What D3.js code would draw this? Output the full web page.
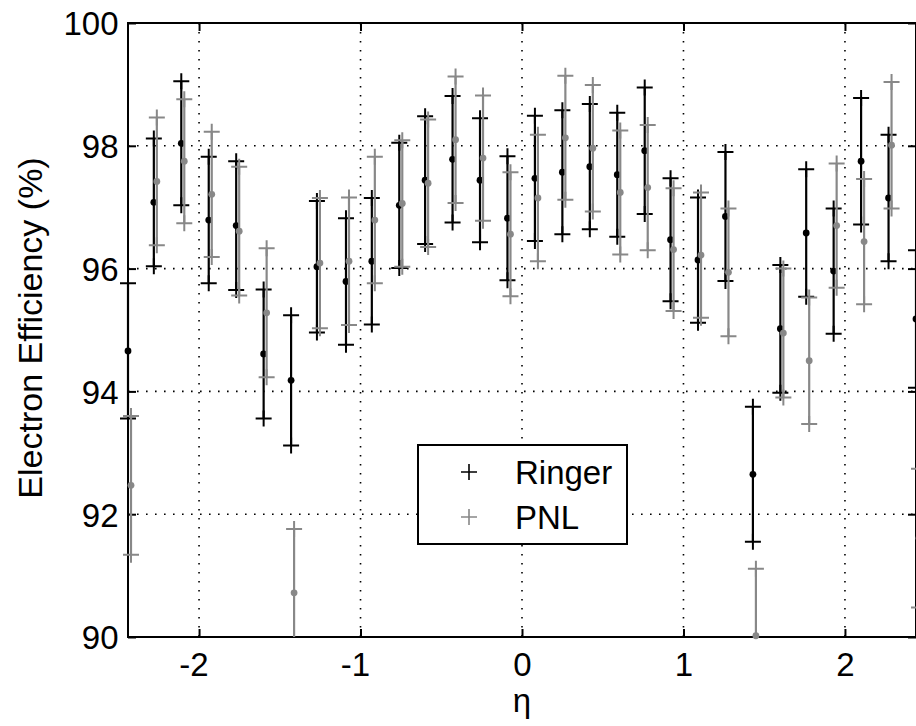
<!DOCTYPE html>
<html>
<head>
<meta charset="utf-8">
<script src="https://cdn.jsdelivr.net/npm/d3@7"></script>
<style>
  body { margin: 0; background: #fff; }
  text { font-family: 'Liberation Sans', Arial, sans-serif; }
</style>
</head>
<body>
<div id="chart"></div>
<script>
// eta bin centres
const etaBins = [-2.44, -2.28, -2.11, -1.94, -1.77, -1.6, -1.43, -1.27, -1.09, -0.93,
  -0.76, -0.6, -0.43, -0.26, -0.09, 0.08, 0.25, 0.42, 0.59, 0.76,
  0.92, 1.09, 1.26, 1.43, 1.6, 1.76, 1.93, 2.1, 2.27, 2.44];

const ringerEff = [94.66, 97.08, 98.04, 96.79, 96.7, 94.61, 94.18, 96.03, 95.79, 96.12,
  97.03, 97.44, 97.78, 97.44, 96.82, 97.47, 97.57, 97.66, 97.53, 97.92,
  96.47, 96.14, 96.85, 92.65, 95.02, 96.58, 95.96, 97.75, 97.15, 95.18];
const ringerErr = [1.1, 1.04, 1.01, 1.03, 1.05, 1.05, 1.06, 1.07, 1.03, 1.03,
  1.02, 1.04, 1.03, 1.01, 1.01, 1.02, 1.01, 1.02, 1.01, 1.03,
  1.0, 1.02, 1.05, 1.1, 1.04, 1.04, 1.02, 1.03, 1.03, 1.12];

const pnlEff = [92.47, 97.42, 97.75, 97.21, 96.61, 95.28, 90.72, 96.09, 96.12, 96.79,
  97.06, 97.39, 98.1, 97.8, 96.56, 97.15, 98.13, 97.96, 97.24, 97.32,
  96.31, 96.22, 95.94, 90.02, 94.95, 94.5, 96.7, 96.44, 98.01, 91.61];
const pnlErr = [1.13, 1.04, 1.01, 1.02, 1.05, 1.05, 1.04, 1.06, 1.04, 1.03,
  1.03, 1.04, 1.03, 1.02, 1.01, 1.03, 1.01, 1.03, 1.01, 1.02,
  1.0, 1.02, 1.04, 1.09, 1.05, 1.03, 1.01, 1.02, 1.03, 1.13];

const xTicks = [-2, -1, 0, 1, 2];
const xTickLabels = ['-2', '-1', '0', '1', '2'];
const yTicks = [90, 92, 94, 96, 98, 100];
const yTickLabels = ['90', '92', '94', '96', '98', '100'];
const seriesNames = ['Ringer', 'PNL'];

const W = 916;
const H = 726;
const plot = { left: 128, right: 916, top: 23, bottom: 637 };
const fontSize = 33;
const colors = { Ringer: '#000000', PNL: '#888888' };
const shift = { Ringer: 0, PNL: 3 };

const svg = d3
  .select('#chart')
  .append('svg')
  .attr('width', W)
  .attr('height', H);

const x = d3.scaleLinear().domain([-2.44, 2.44]).range([plot.left, plot.right]);
const y = d3.scaleLinear().domain([90, 100]).range([plot.bottom, plot.top]);

// dotted grid
const grid = svg
  .append('g')
  .attr('stroke', '#000')
  .attr('stroke-width', 1.6)
  .attr('stroke-dasharray', '1.6,7.4');

grid
  .selectAll('.vgrid')
  .data(xTicks)
  .enter()
  .append('line')
  .attr('x1', (d) => x(d))
  .attr('x2', (d) => x(d))
  .attr('y1', plot.top)
  .attr('y2', plot.bottom);

grid
  .selectAll('.hgrid')
  .data(yTicks.filter((d) => d > 90 && d < 100))
  .enter()
  .append('line')
  .attr('x1', plot.left)
  .attr('x2', plot.right)
  .attr('y1', (d) => y(d))
  .attr('y2', (d) => y(d));

// box
svg
  .append('rect')
  .attr('x', plot.left)
  .attr('y', plot.top)
  .attr('width', plot.right - plot.left)
  .attr('height', plot.bottom - plot.top)
  .attr('fill', 'none')
  .attr('stroke', '#000')
  .attr('stroke-width', 2);

// axes with inward ticks
const yAxis = svg
  .append('g')
  .attr('transform', `translate(${plot.left},0)`)
  .call(
    d3
      .axisLeft(y)
      .tickValues(yTicks)
      .tickFormat((d, i) => yTickLabels[i])
      .tickSizeInner(-8)
      .tickSizeOuter(0)
      .tickPadding(9.5)
  );

const yAxisRight = svg
  .append('g')
  .attr('transform', `translate(${plot.right},0)`)
  .call(d3.axisRight(y).tickValues(yTicks).tickFormat('').tickSizeInner(-8).tickSizeOuter(0));

const xAxis = svg
  .append('g')
  .attr('transform', `translate(0,${plot.bottom})`)
  .call(
    d3
      .axisBottom(x)
      .tickValues(xTicks)
      .tickFormat((d, i) => xTickLabels[i])
      .tickSizeInner(-8)
      .tickSizeOuter(0)
      .tickPadding(16)
  );

const xAxisTop = svg
  .append('g')
  .attr('transform', `translate(0,${plot.top})`)
  .call(d3.axisTop(x).tickValues(xTicks).tickFormat('').tickSizeInner(-8).tickSizeOuter(0));

svg.selectAll('.domain').remove();
svg.selectAll('.tick line').attr('stroke', '#000').attr('stroke-width', 2);
svg
  .selectAll('.tick text')
  .attr('fill', '#000')
  .style('font-family', "'Liberation Sans', Arial, sans-serif")
  .style('font-size', fontSize + 'px');

yAxis.selectAll('.tick text').attr('dy', '0.36em');
xAxis.selectAll('.tick text').attr('dx', (d) => (d < 0 ? '-0.17em' : 0));

// error bars
const series = [
  { name: 'Ringer', eff: ringerEff, err: ringerErr },
  { name: 'PNL', eff: pnlEff, err: pnlErr },
];

const inside = (v) => v >= 89.99 && v <= 100.01;
const half = 8;

series.forEach((s) => {
  const pts = etaBins.map((eta, i) => ({
    eta: eta,
    v: s.eff[i],
    lo: s.eff[i] - s.err[i],
    hi: s.eff[i] + s.err[i],
  }));
  const g = svg
    .append('g')
    .attr('class', 'series-' + s.name)
    .attr('stroke', colors[s.name])
    .attr('fill', colors[s.name]);
  const px = (d) => x(d.eta) + shift[s.name];

  g.selectAll('.bar')
    .data(pts)
    .enter()
    .append('line')
    .attr('x1', px)
    .attr('x2', px)
    .attr('y1', (d) => y(Math.max(d.lo, 90)))
    .attr('y2', (d) => y(Math.min(d.hi, 100)))
    .attr('stroke-width', 2.2);

  const caps = [];
  pts.forEach((d) => {
    if (inside(d.lo)) caps.push({ eta: d.eta, v: d.lo });
    if (inside(d.hi)) caps.push({ eta: d.eta, v: d.hi });
  });

  g.selectAll('.cap')
    .data(caps)
    .enter()
    .append('path')
    .attr(
      'd',
      (d) =>
        `M${px(d) - half},${y(d.v)}H${px(d) + half}M${px(d)},${y(d.v) - half}V${y(d.v) + half}`
    )
    .attr('fill', 'none')
    .attr('stroke-width', 2);

  g.selectAll('.dot')
    .data(pts.filter((d) => inside(d.v)))
    .enter()
    .append('circle')
    .attr('cx', px)
    .attr('cy', (d) => y(d.v))
    .attr('r', 3.4)
    .attr('stroke', 'none');
});

// legend
const legend = svg.append('g').attr('transform', 'translate(418,445)');

legend
  .append('rect')
  .attr('width', 209)
  .attr('height', 99)
  .attr('fill', '#fff')
  .attr('stroke', '#000')
  .attr('stroke-width', 2);

const items = legend
  .selectAll('.item')
  .data(seriesNames)
  .enter()
  .append('g')
  .attr('transform', (d, i) => `translate(0,${27 + i * 45})`);

items
  .append('path')
  .attr('d', `M${51 - half},0H${51 + half}M51,${-half}V${half}`)
  .attr('stroke', (d) => colors[d])
  .attr('stroke-width', 1.6);

items
  .append('text')
  .attr('x', 97)
  .attr('y', 12)
  .style('font-size', fontSize + 'px')
  .text((d) => d);

// axis titles
svg
  .append('text')
  .attr('x', x(0))
  .attr('y', 712)
  .attr('text-anchor', 'middle')
  .style('font-size', fontSize + 'px')
  .text('η');

svg
  .append('text')
  .attr('transform', `translate(42,${(plot.top + plot.bottom) / 2 - 2}) rotate(-90)`)
  .attr('text-anchor', 'middle')
  .style('font-size', '34px')
  .text('Electron Efficiency (%)');
</script>
</body>
</html>
